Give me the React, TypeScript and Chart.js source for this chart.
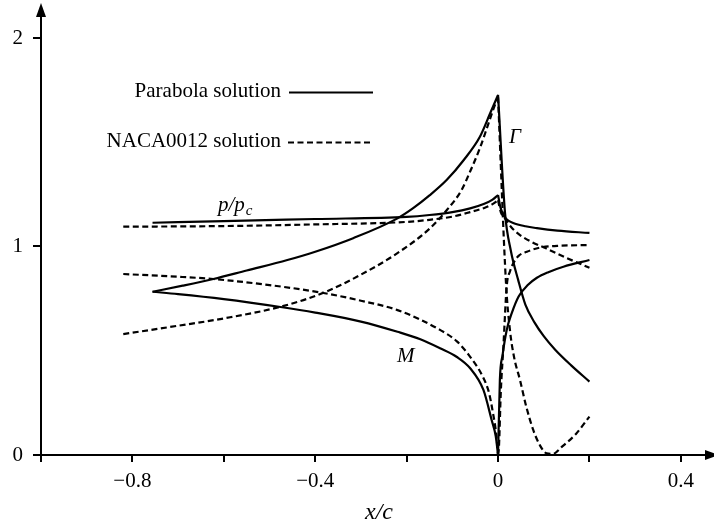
import React, { useEffect, useRef } from 'react';
import { Chart, registerables } from 'chart.js';

Chart.register(...registerables);

const FONT = '"Liberation Serif", "Times New Roman", serif';

// ---- axes ----
const xTickValues = [-1.0, -0.8, -0.6, -0.4, -0.2, 0, 0.2, 0.4];
const xTickLabels = ['', '\u22120.8', '', '\u22120.4', '', '0', '', '0.4'];
const yTickValues = [0, 1, 2];
const yTickLabels = ['0', '1', '2'];
const xAxisTitle = 'x/c';

// ---- legend / annotations ----
const legendLabels = ['Parabola solution', 'NACA0012 solution'];
const curveLabels = { gamma: '\u0393', mach: 'M', pressure: 'p/p', pressureSub: 'c' };

// ---- Parabola solution (solid) ----
const parabolaPressureX = [-0.756, -0.6, -0.4, -0.2, -0.15, -0.1, -0.061, -0.03, -0.012, 0, 0.005, 0.011, 0.02, 0.033, 0.06, 0.085, 0.13, 0.2];
const parabolaPressureY = [1.114, 1.122, 1.132, 1.142, 1.151, 1.165, 1.183, 1.205, 1.225, 1.247, 1.19, 1.155, 1.128, 1.113, 1.097, 1.088, 1.076, 1.065];

const parabolaGammaX = [-0.756, -0.69, -0.623, -0.55, -0.461, -0.4, -0.317, -0.22, -0.185, -0.15, -0.112, -0.075, -0.04, -0.017, 0, 0.0153, 0.028, 0.044, 0.06, 0.08, 0.1, 0.125, 0.16, 0.2];
const parabolaGammaY = [0.783, 0.812, 0.844, 0.885, 0.935, 0.975, 1.04, 1.135, 1.185, 1.245, 1.32, 1.415, 1.525, 1.64, 1.727, 1.16, 0.98, 0.84, 0.72, 0.635, 0.57, 0.505, 0.43, 0.352];

const parabolaMachX = [-0.756, -0.7, -0.6, -0.476, -0.4, -0.3, -0.22, -0.17, -0.127, -0.09, -0.061, -0.032, -0.014, -0.005, 0, 0.004, 0.01, 0.019, 0.03, 0.045, 0.065, 0.085, 0.11, 0.143, 0.2];
const parabolaMachY = [0.783, 0.772, 0.748, 0.71, 0.683, 0.64, 0.591, 0.555, 0.512, 0.47, 0.416, 0.312, 0.168, 0.09, 0, 0.36, 0.48, 0.6, 0.68, 0.76, 0.815, 0.85, 0.877, 0.903, 0.935];

// ---- NACA0012 solution (dashed) ----
const nacaPressureX = [-0.82, -0.6, -0.4, -0.2, -0.15, -0.1, -0.061, -0.03, -0.012, 0, 0.006, 0.015, 0.03, 0.048, 0.075, 0.106, 0.15, 0.2];
const nacaPressureY = [1.095, 1.098, 1.106, 1.118, 1.128, 1.143, 1.165, 1.185, 1.203, 1.222, 1.165, 1.135, 1.09, 1.055, 1.02, 0.99, 0.945, 0.898];

const nacaGammaX = [-0.82, -0.7, -0.6, -0.469, -0.382, -0.3, -0.221, -0.15, -0.112, -0.08, -0.061, -0.04, -0.024, -0.01, 0, 0.0175, 0.026, 0.035, 0.048, 0.062, 0.077, 0.092, 0.106, 0.12, 0.14, 0.17, 0.2];
const nacaGammaY = [0.58, 0.62, 0.655, 0.715, 0.778, 0.865, 0.967, 1.085, 1.175, 1.27, 1.36, 1.47, 1.57, 1.66, 1.715, 0.82, 0.6, 0.47, 0.36, 0.23, 0.12, 0.045, 0.008, 0.005, 0.04, 0.1, 0.184];

const nacaMachX = [-0.82, -0.7, -0.623, -0.5, -0.382, -0.3, -0.22, -0.127, -0.09, -0.061, -0.033, -0.02, -0.011, -0.004, 0, 0.002, 0.006, 0.0117, 0.019, 0.026, 0.0335, 0.045, 0.063, 0.092, 0.13, 0.2];
const nacaMachY = [0.868, 0.855, 0.844, 0.815, 0.777, 0.74, 0.695, 0.6, 0.545, 0.471, 0.374, 0.3, 0.2, 0.1, 0, 0.04, 0.3, 0.52, 0.81, 0.88, 0.92, 0.955, 0.975, 0.995, 1.003, 1.007];

const DASH = [6, 3.5];
const LINE_WIDTH = 2.2;

function splitAtZero(xs: number[], ys: number[]) {
  const left: { x: number; y: number }[] = [];
  const right: { x: number; y: number }[] = [];
  xs.forEach((x, i) => {
    if (x <= 0) left.push({ x, y: ys[i] });
    if (x >= 0) right.push({ x, y: ys[i] });
  });
  return [left, right];
}

const curves = [
  { xs: parabolaPressureX, ys: parabolaPressureY, dashed: false },
  { xs: parabolaGammaX, ys: parabolaGammaY, dashed: false },
  { xs: parabolaMachX, ys: parabolaMachY, dashed: false },
  { xs: nacaPressureX, ys: nacaPressureY, dashed: true },
  { xs: nacaGammaX, ys: nacaGammaY, dashed: true },
  { xs: nacaMachX, ys: nacaMachY, dashed: true },
];

const annotationPlugin = {
  id: 'annotations',
  afterDraw(chart: any) {
    const ctx = chart.ctx as CanvasRenderingContext2D;
    const area = chart.chartArea;
    const xs = chart.scales.x;
    const ys = chart.scales.y;
    const x0 = xs.getPixelForValue(-1.0);
    const y0 = ys.getPixelForValue(0);
    ctx.save();
    ctx.fillStyle = '#000';
    ctx.strokeStyle = '#000';
    // arrowheads
    ctx.beginPath();
    ctx.moveTo(x0, area.top - 13);
    ctx.lineTo(x0 - 5, area.top + 1);
    ctx.lineTo(x0 + 5, area.top + 1);
    ctx.closePath();
    ctx.fill();
    ctx.beginPath();
    ctx.moveTo(area.right + 13, y0);
    ctx.lineTo(area.right - 1, y0 - 5);
    ctx.lineTo(area.right - 1, y0 + 5);
    ctx.closePath();
    ctx.fill();

    // legend
    ctx.font = `21px ${FONT}`;
    ctx.textAlign = 'right';
    ctx.textBaseline = 'alphabetic';
    ctx.fillText(legendLabels[0], 281, 97);
    ctx.fillText(legendLabels[1], 281, 147);
    ctx.lineWidth = LINE_WIDTH;
    ctx.setLineDash([]);
    ctx.beginPath();
    ctx.moveTo(289, 92.5);
    ctx.lineTo(373, 92.5);
    ctx.stroke();
    ctx.setLineDash(DASH);
    ctx.beginPath();
    ctx.moveTo(288, 142.5);
    ctx.lineTo(373, 142.5);
    ctx.stroke();
    ctx.setLineDash([]);

    // curve labels
    ctx.textAlign = 'left';
    ctx.font = `italic 21px ${FONT}`;
    ctx.fillText(curveLabels.gamma, 509, 143);
    ctx.fillText(curveLabels.mach, 397, 362);
    ctx.fillText(curveLabels.pressure, 218, 211);
    const w = ctx.measureText(curveLabels.pressure).width;
    ctx.font = `italic 15px ${FONT}`;
    ctx.fillText(curveLabels.pressureSub, 218 + w + 1, 215);

    // axis title
    ctx.font = `italic 24px ${FONT}`;
    ctx.textAlign = 'center';
    ctx.fillText(xAxisTitle, 379, 519);
    ctx.restore();
  },
};

export default function App() {
  const canvasRef = useRef<HTMLCanvasElement | null>(null);

  useEffect(() => {
    const canvas = canvasRef.current;
    if (!canvas) return;
    const datasets: any[] = [];
    curves.forEach((c) => {
      const parts = splitAtZero(c.xs, c.ys);
      parts.forEach((pts) => {
        datasets.push({
          data: pts,
          showLine: true,
          borderColor: '#000',
          backgroundColor: '#000',
          borderWidth: LINE_WIDTH,
          borderDash: c.dashed ? DASH : [],
          pointRadius: 0,
          pointHoverRadius: 0,
          cubicInterpolationMode: 'monotone',
          fill: false,
        });
      });
    });

    const chart = new Chart(canvas, {
      type: 'scatter',
      data: { datasets },
      options: {
        responsive: false,
        animation: false,
        events: [],
        layout: { padding: { left: 0, right: 8, top: 16, bottom: 0 } },
        plugins: {
          legend: { display: false },
          tooltip: { enabled: false },
          title: { display: false },
        },
        scales: {
          x: {
            type: 'linear',
            min: -1.0,
            max: 0.455,
            grid: { display: true, drawOnChartArea: false, drawTicks: true, tickLength: 7, color: '#000', lineWidth: 2 },
            border: { display: true, color: '#000', width: 2 },
            afterBuildTicks: (scale: any) => {
              scale.ticks = xTickValues.map((v) => ({ value: v }));
            },
            afterFit: (scale: any) => {
              scale.height = 73;
              scale.paddingLeft = 0;
              scale.paddingRight = 0;
            },
            ticks: {
              autoSkip: false,
              maxRotation: 0,
              minRotation: 0,
              padding: 7,
              color: '#000',
              font: { family: FONT, size: 21 },
              callback: (value: any) => {
                const i = xTickValues.findIndex((v) => Math.abs(v - Number(value)) < 1e-9);
                return i >= 0 ? xTickLabels[i] : '';
              },
            },
          },
          y: {
            type: 'linear',
            min: 0,
            max: 2.1055,
            grid: { display: true, drawOnChartArea: false, drawTicks: true, tickLength: 8, color: '#000', lineWidth: 2 },
            border: { display: true, color: '#000', width: 2 },
            afterBuildTicks: (scale: any) => {
              scale.ticks = yTickValues.map((v) => ({ value: v }));
            },
            afterFit: (scale: any) => {
              scale.width = 41;
              scale.paddingTop = 0;
              scale.paddingBottom = 0;
            },
            ticks: {
              autoSkip: false,
              padding: 10,
              color: '#000',
              font: { family: FONT, size: 21 },
              callback: (value: any) => {
                const i = yTickValues.findIndex((v) => Math.abs(v - Number(value)) < 1e-9);
                return i >= 0 ? yTickLabels[i] : '';
              },
            },
          },
        },
      },
      plugins: [annotationPlugin],
    } as any);

    return () => {
      chart.destroy();
    };
  }, []);

  return (
    <div style={{ position: 'absolute', left: 0, top: 0, width: 714, height: 528, background: '#fff' }}>
      <canvas ref={canvasRef} width={714} height={528} style={{ display: 'block' }} />
    </div>
  );
}
